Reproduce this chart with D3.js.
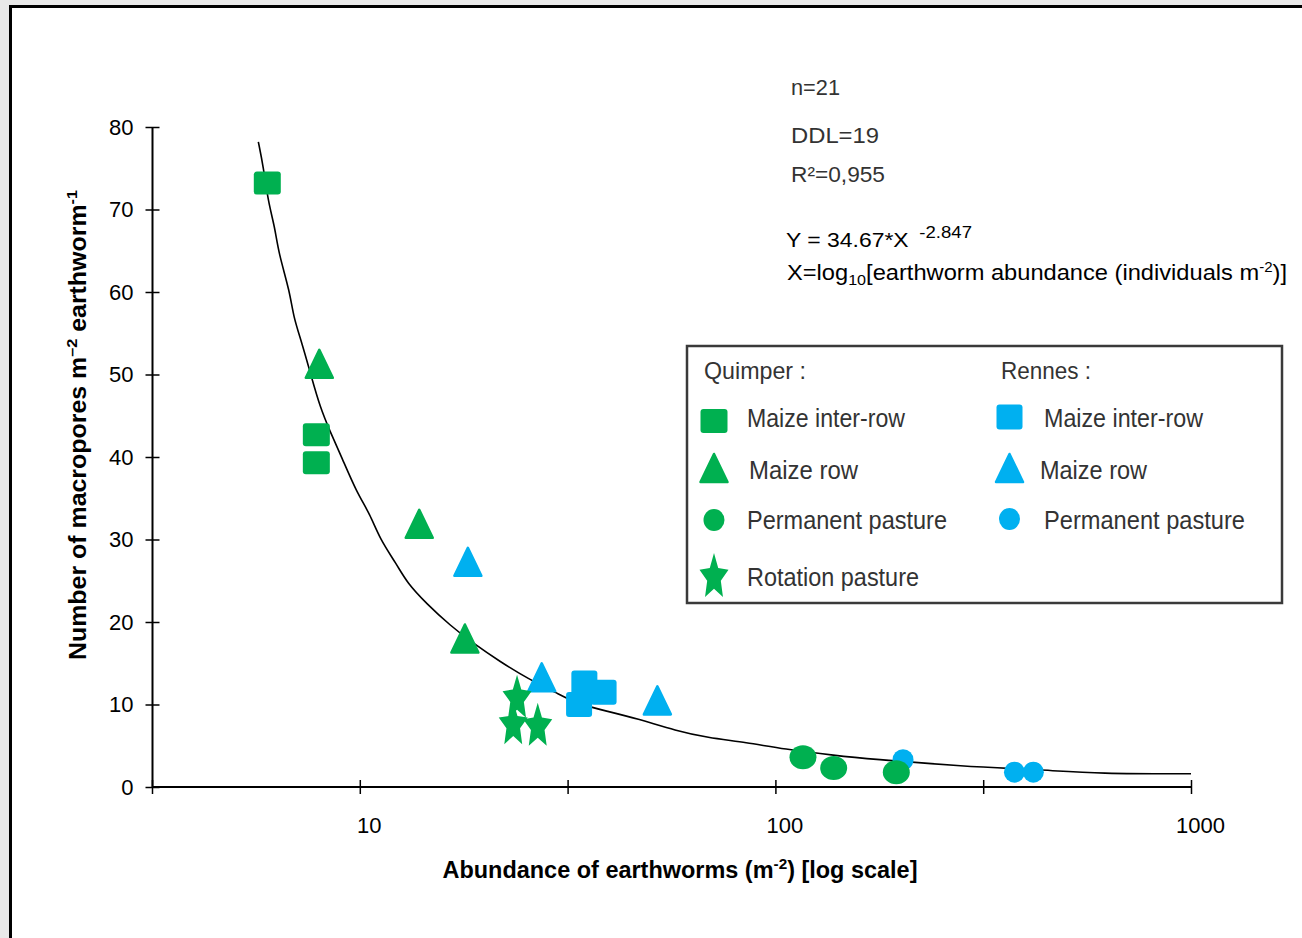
<!DOCTYPE html>
<html lang="en">
<head>
<meta charset="utf-8">
<title>Macropores vs earthworm abundance</title>
<style>
    body { margin: 0; background: #e9e9e9; }
    svg { display: block; }
    .tick text { font-family: "Liberation Sans", Arial, sans-serif; fill: #000; }
    .note { font-family: "Liberation Sans", Arial, sans-serif; fill: #333; }
    .eq { font-family: "Liberation Sans", Arial, sans-serif; fill: #000; }
    .leg { font-family: "Liberation Sans", Arial, sans-serif; fill: #333; }
    .title { font-family: "Liberation Sans", Arial, sans-serif; font-weight: bold; fill: #000; }
</style>
</head>
<body>
<svg id="chart" width="1302" height="938"></svg>
<script src="https://cdnjs.cloudflare.com/ajax/libs/d3/7.8.5/d3.min.js"></script>
<script>
// values: [abundance per m2, macropores per m2 per earthworm]
var quimperInterRow = [[5.99, 73.2], [7.86, 42.7], [7.86, 39.3]];
var quimperRow = [[7.99, 51.3], [13.9, 31.9], [17.9, 18.0]];
var quimperPasture = [[116.5, 3.6], [138.1, 2.3], [195.4, 1.8]];
var quimperRotation = [[23.9, 11.0], [23.4, 7.8], [26.8, 7.6]];
var rennesInterRow = [[34.7, 12.6], [38.6, 11.5], [33.7, 10.0]];
var rennesRow = [[18.2, 27.3], [27.4, 13.3], [52.0, 10.5]];
var rennesPasture = [[202.8, 3.3], [376, 1.8], [417.5, 1.8]];

// fitted curve
var fitCurve = [[5.70, 78.2], [5.86, 75.2], [6.02, 70.9], [6.25, 67.8], [6.37, 64.8], [6.79, 60.0],
    [6.92, 57.0], [7.25, 53.9], [7.66, 49.6], [8.02, 46.1], [8.48, 43.1], [9.04, 40.0], [9.83, 35.7],
    [10.58, 33.1], [11.19, 30.0], [12.27, 27.0], [12.97, 24.8], [14.49, 22.2], [16.48, 19.6],
    [18.76, 17.4], [21.75, 15.2], [25.43, 13.1], [29.77, 11.4], [33.25, 10.1], [39.27, 9.2],
    [46.38, 8.3], [57.88, 6.8], [68.35, 6.0], [85.31, 5.4], [104.5, 4.6], [140.4, 3.8],
    [168.9, 3.4], [283.2, 2.5], [433.1, 2.1], [604, 1.6], [1000, 1.6]];

var yTicks = [0, 10, 20, 30, 40, 50, 60, 70, 80];
var xTicks = [Math.sqrt(10), 10, Math.sqrt(1000), 100, Math.sqrt(100000), 1000];
var xLabels = [10, 100, 1000];

var green = "#00b050", blue = "#00b0f0";

var svg = d3.select("#chart");

// white page with black frame
svg.append("rect").attr("x", 10.5).attr("y", 6.5).attr("width", 1400).attr("height", 1000)
    .attr("fill", "#fff").attr("stroke", "#000").attr("stroke-width", 3);

var x = d3.scaleLog().domain([Math.sqrt(10), 1000]).range([152, 1191]);
var y = d3.scaleLinear().domain([0, 80]).range([787, 127]);

// axes (ticks cross the line)
var yAxis = svg.append("g").attr("transform", "translate(152.5,0)")
    .call(d3.axisLeft(y).tickValues(yTicks).tickSize(7).tickPadding(12));
yAxis.selectAll(".tick line").attr("x2", 7).attr("x1", -7).attr("stroke-width", 1.5);
yAxis.select(".domain").attr("stroke-width", 2).attr("d", "M0," + y(80) + "V" + y(0));
yAxis.selectAll(".tick text").attr("font-size", 22).attr("x", -19);

var xAxis = svg.append("g").attr("transform", "translate(0,787)")
    .call(d3.axisBottom(x).tickValues(xTicks).tickSize(7)
        .tickFormat(function(d) { return xLabels.indexOf(Math.round(d)) >= 0 ? Math.round(d) : ""; }));
xAxis.selectAll(".tick line").attr("y1", -7).attr("y2", 7).attr("stroke-width", 1.5);
xAxis.select(".domain").attr("stroke-width", 2).attr("d", "M" + x(Math.sqrt(10)) + ",0H" + x(1000));
xAxis.selectAll(".tick text").attr("font-size", 22).attr("y", 30).attr("dx", 9);

// fitted curve
var line = d3.line().curve(d3.curveBasis)
    .x(function(d) { return x(d[0]); }).y(function(d) { return y(d[1]); });
svg.append("path").datum(fitCurve).attr("d", line)
    .attr("fill", "none").attr("stroke", "#000").attr("stroke-width", 1.6);

// marker shapes
function square(g, w, h, col) {
    g.append("rect").attr("x", -w / 2).attr("y", -h / 2).attr("width", w).attr("height", h)
        .attr("rx", 3).attr("fill", col);
}
function triangle(g, w, h, col) {
    g.append("path").attr("d", "M0," + (-h / 2 + 1) + "L" + (w / 2 - 1) + "," + (h / 2 - 1) + "L" + (-w / 2 + 1) + "," + (h / 2 - 1) + "Z")
        .attr("fill", col).attr("stroke", col).attr("stroke-width", 2.5).attr("stroke-linejoin", "round");
}
function ellipse(g, w, h, col) {
    g.append("ellipse").attr("rx", w / 2).attr("ry", h / 2).attr("fill", col);
}
function star(g, w, h, col) {
    var pts = [];
    for (var i = 0; i < 10; i++) {
        var a = -Math.PI / 2 + i * Math.PI / 5;
        var r = i % 2 === 0 ? 1 : 0.47;
        pts.push([Math.cos(a) * r, Math.sin(a) * r]);
    }
    var sx = w / (2 * Math.cos(Math.PI / 10)), sy = h / (1 + Math.cos(Math.PI / 5));
    var dy = (1 - Math.cos(Math.PI / 5)) / 2 * sy;
    g.append("path").attr("d", "M" + pts.map(function(p) { return (p[0] * sx) + "," + (p[1] * sy + dy); }).join("L") + "Z")
        .attr("fill", col);
}

var series = [
    {data: rennesPasture, shape: ellipse, w: 21, h: 21, col: blue},
    {data: rennesRow, shape: triangle, w: 29, h: 30, col: blue},
    {data: rennesInterRow, shape: square, w: 26, h: 25, col: blue},
    {data: quimperInterRow, shape: square, w: 27, h: 23, col: green},
    {data: quimperRow, shape: triangle, w: 29, h: 30, col: green},
    {data: quimperPasture, shape: ellipse, w: 27, h: 24, col: green},
    {data: quimperRotation, shape: star, w: 29, h: 43, col: green}
];

series.forEach(function(s) {
    svg.append("g").selectAll("g").data(s.data).enter().append("g")
        .attr("transform", function(d) { return "translate(" + x(d[0]) + "," + y(d[1]) + ")"; })
        .each(function() { s.shape(d3.select(this), s.w, s.h, s.col); });
});

// helper: text squeezed to a given width (the original uses a narrow face)
function fitText(cls, px, py, size, width, str) {
    return svg.append("text").attr("class", cls).attr("x", px).attr("y", py).attr("font-size", size)
        .attr("textLength", width).attr("lengthAdjust", "spacingAndGlyphs").text(str);
}

// statistics and equation
fitText("note", 791, 95, 22, 49, "n=21");
fitText("note", 791, 143, 22, 88, "DDL=19");
fitText("note", 791, 182, 22, 94, "R²=0,955");

var eq = svg.append("text").attr("class", "eq").attr("x", 786).attr("y", 247).attr("font-size", 21)
    .attr("textLength", 186).attr("lengthAdjust", "spacingAndGlyphs");
eq.append("tspan").text("Y = 34.67*X ");
eq.append("tspan").attr("font-size", 17).attr("dy", -9).attr("dx", 4).text("-2.847");

var xdef = svg.append("text").attr("class", "eq").attr("x", 787).attr("y", 280).attr("font-size", 22)
    .attr("textLength", 500).attr("lengthAdjust", "spacingAndGlyphs");
xdef.append("tspan").text("X=log");
xdef.append("tspan").attr("font-size", 15).attr("dy", 5).text("10");
xdef.append("tspan").attr("dy", -5).text("[earthworm abundance (individuals m");
xdef.append("tspan").attr("font-size", 14).attr("dy", -8).text("-2");
xdef.append("tspan").attr("dy", 8).text(")]");

// legend
svg.append("rect").attr("x", 687).attr("y", 346).attr("width", 595).attr("height", 257)
    .attr("fill", "#fff").attr("stroke", "#3a3a3a").attr("stroke-width", 2.5);

var legendLeft = [
    {label: "Maize inter-row", shape: square, w: 27, h: 24, col: green, cy: 421},
    {label: "Maize row", shape: triangle, w: 29, h: 30, col: green, cy: 468},
    {label: "Permanent pasture", shape: ellipse, w: 21, h: 22, col: green, cy: 520},
    {label: "Rotation pasture", shape: star, w: 29, h: 44, col: green, cy: 575}
];
var legendRight = [
    {label: "Maize inter-row", shape: square, w: 26, h: 25, col: blue, cy: 417},
    {label: "Maize row", shape: triangle, w: 29, h: 30, col: blue, cy: 468},
    {label: "Permanent pasture", shape: ellipse, w: 21, h: 22, col: blue, cy: 519}
];
var textBase = [427, 479, 529, 586];
var textLeftX = [747, 749, 747, 747];
var textLeftW = [158, 109, 200, 172];
var textRightX = [1044, 1040, 1044];
var textRightW = [159, 107, 201];

fitText("leg", 704, 379, 24, 102, "Quimper :");
fitText("leg", 1001, 379, 24, 90, "Rennes :");

legendLeft.forEach(function(d, i) {
    var g = svg.append("g").attr("transform", "translate(714," + d.cy + ")");
    d.shape(g, d.w, d.h, d.col);
    fitText("leg", textLeftX[i], textBase[i], 25, textLeftW[i], d.label);
});
legendRight.forEach(function(d, i) {
    var g = svg.append("g").attr("transform", "translate(1009.5," + d.cy + ")");
    d.shape(g, d.w, d.h, d.col);
    fitText("leg", textRightX[i], textBase[i], 25, textRightW[i], d.label);
});

// axis titles
var yt = svg.append("text").attr("class", "title").attr("font-size", 23).attr("text-anchor", "middle")
    .attr("transform", "translate(86,425) rotate(-90)")
    .attr("textLength", 470).attr("lengthAdjust", "spacingAndGlyphs");
yt.append("tspan").text("Number of macropores  m");
yt.append("tspan").attr("font-size", 15).attr("dy", -9).text("–2");
yt.append("tspan").attr("dy", 9).text(" earthworm");
yt.append("tspan").attr("font-size", 15).attr("dy", -9).text("-1");

var xt = svg.append("text").attr("class", "title").attr("font-size", 23).attr("text-anchor", "middle")
    .attr("x", 680).attr("y", 878)
    .attr("textLength", 475).attr("lengthAdjust", "spacingAndGlyphs");
xt.append("tspan").text("Abundance of earthworms  (m");
xt.append("tspan").attr("font-size", 15).attr("dy", -9).text("-2");
xt.append("tspan").attr("dy", 9).text(")  [log scale]");
</script>
</body>
</html>
